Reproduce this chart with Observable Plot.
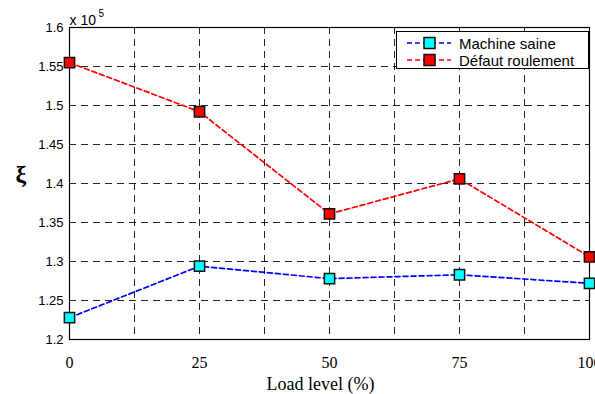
<!DOCTYPE html>
<html><head><meta charset="utf-8">
<script src="https://cdn.jsdelivr.net/npm/d3@7"></script>
<script src="https://cdn.jsdelivr.net/npm/@observablehq/plot@0.6"></script>
<style>
body{margin:0;background:#fff;}
#wrap{position:relative;width:595px;height:394px;overflow:hidden;}
#legend{position:absolute;left:396px;top:31px;width:191px;height:36px;border:1px solid #000;background:#fff;font-family:"Liberation Sans",Arial,sans-serif;font-size:15px;}
.row{position:absolute;left:0;height:16px;display:flex;align-items:center;}
.row svg{margin-left:9px;}
.row span{margin-left:7px;}
</style></head>
<body><div id="wrap"><div id="chart"></div><div id="legend"></div></div>
<script>
const loads = [0, 25, 50, 75, 100];
const machineSaine = [1.228, 1.294, 1.278, 1.283, 1.272];
const defautRoulement = [1.555, 1.492, 1.361, 1.406, 1.306];
const seriesNames = ["Machine saine", "Défaut roulement"];
const seriesColors = ["#0000ff", "#ff0000"];
const markerFills = ["#00ffff", "#ff0000"];
const xGridTicks = [0, 12.5, 25, 37.5, 50, 62.5, 75, 87.5, 100];
const xLabelTicks = [0, 25, 50, 75, 100];
const yTicks = [1.2, 1.25, 1.3, 1.35, 1.4, 1.45, 1.5, 1.55, 1.6];

const data = [];
[machineSaine, defautRoulement].forEach((vals, s) => {
  vals.forEach((v, i) => data.push({series: seriesNames[s], load: loads[i], value: v}));
});

const chart = Plot.plot({
  width: 595, height: 394,
  marginLeft: 69, marginRight: 6, marginTop: 27, marginBottom: 55,
  x: {domain: [0, 100]},
  y: {domain: [1.2, 1.6]},
  marks: [
    Plot.gridX(xGridTicks, {stroke: "#000", strokeOpacity: 0.85, strokeDasharray: "7,5", strokeWidth: 1}),
    Plot.gridY(yTicks, {stroke: "#000", strokeOpacity: 0.85, strokeDasharray: "7,5", strokeWidth: 1}),
    Plot.axisX(xLabelTicks, {tickSize: 0, tickPadding: 17, fontSize: 16, fontFamily: "Liberation Serif, Times New Roman, serif", fill: "#000", label: null}),
    Plot.axisY(yTicks, {tickSize: 0, tickPadding: 6, fontSize: 13, fontFamily: "Liberation Sans, Arial, sans-serif", fill: "#000", label: null, tickFormat: d => String(+d.toFixed(2))}),
    Plot.frame({stroke: "#000", strokeWidth: 1.2}),
    Plot.line(data, {x: "load", y: "value", z: "series", stroke: d => seriesColors[seriesNames.indexOf(d.series)], strokeWidth: 1.7, strokeDasharray: "5,3"}),
    Plot.dot(data, {x: "load", y: "value", symbol: "square", r: 5.8, fill: d => markerFills[seriesNames.indexOf(d.series)], stroke: "#111", strokeWidth: 1.5}),
    Plot.text(["Load level (%)"], {frameAnchor: "bottom", dx: -9, dy: 50, fontSize: 18, fontFamily: "Liberation Serif, Times New Roman, serif", fill: "#000"}),
    Plot.text(["ξ"], {frameAnchor: "left", dx: -54, dy: -9, fontSize: 24, fontWeight: "bold", fontFamily: "Liberation Serif, Times New Roman, serif", fill: "#000"}),
    Plot.text(["x 10"], {frameAnchor: "top-left", dx: 0, dy: -12, textAnchor: "start", fontSize: 14, fontFamily: "Liberation Sans, Arial, sans-serif", fill: "#000"}),
    Plot.text(["5"], {frameAnchor: "top-left", dx: 29, dy: -18, textAnchor: "start", fontSize: 10, fontFamily: "Liberation Sans, Arial, sans-serif", fill: "#000"})
  ]
});
chart.style.fontFamily = "Liberation Sans, Arial, sans-serif";
document.getElementById("chart").appendChild(chart);

const legend = document.getElementById("legend");
seriesNames.forEach((name, i) => {
  const row = document.createElement("div");
  row.className = "row";
  row.style.top = (i === 0 ? 3 : 20) + "px";
  row.innerHTML = `<svg width="46" height="14"><line x1="1" y1="7" x2="45" y2="7" stroke="${seriesColors[i]}" stroke-width="1.6" stroke-dasharray="5,3"/><rect x="18" y="1.5" width="11" height="11" fill="${markerFills[i]}" stroke="#111" stroke-width="1.5"/></svg><span>${name}</span>`;
  legend.appendChild(row);
});
</script></body></html>
